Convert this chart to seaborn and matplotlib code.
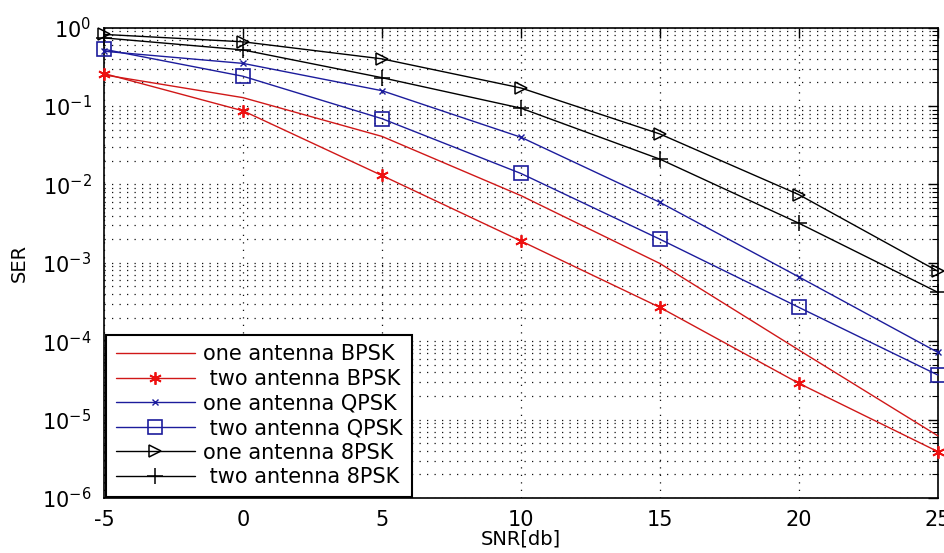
from __future__ import annotations

import matplotlib

matplotlib.use("Agg")
import matplotlib.pyplot as plt
import pandas as pd
import seaborn as sns
from matplotlib.ticker import LogLocator, NullFormatter

SNR_DB = [-5, 0, 5, 10, 15, 20, 25]
ONE_BPSK = [0.25, 0.128, 0.041, 0.0072, 0.00098, 7.7e-5, 6.2e-6]
TWO_BPSK = [0.26, 0.087, 0.013, 0.0019, 0.00027, 2.9e-5, 3.9e-6]
ONE_QPSK = [0.50, 0.35, 0.157, 0.040, 0.0059, 0.00066, 7.2e-5]
TWO_QPSK = [0.53, 0.24, 0.069, 0.0138, 0.0020, 0.00027, 3.7e-5]
ONE_8PSK = [0.82, 0.66, 0.40, 0.17, 0.044, 0.0074, 0.00078]
TWO_8PSK = [0.74, 0.52, 0.23, 0.094, 0.021, 0.0032, 0.00042]

LABELS = [
    "one antenna BPSK", " two antenna BPSK",
    "one antenna QPSK", " two antenna QPSK",
    "one antenna 8PSK", " two antenna 8PSK",
]

RED = "#d01818"
BLUE = "#1c1c9c"
BLACK = "#000000"

STYLES = [
    dict(color=RED, marker=None),
    dict(color=RED, marker=(6, 2, 0), markersize=9, markeredgewidth=1.3,
         markeredgecolor="#ee1111"),
    dict(color=BLUE, marker="x", markersize=5, markeredgewidth=1.0,
         markeredgecolor=BLUE),
    dict(color=BLUE, marker="s", markersize=10, markerfacecolor="none",
         markeredgecolor=BLUE, markeredgewidth=1.2),
    dict(color=BLACK, marker=">", markersize=9, markerfacecolor="none",
         markeredgecolor=BLACK, markeredgewidth=1.1),
    dict(color=BLACK, marker="+", markersize=11, markeredgewidth=1.1,
         markeredgecolor=BLACK),
]


def main() -> None:
    sns.set_style("white")
    plt.rcParams["font.family"] = ["DejaVu Sans"]
    plt.rcParams["axes.unicode_minus"] = False
    plt.rcParams["text.color"] = "black"
    plt.rcParams["axes.labelcolor"] = "black"

    series = [ONE_BPSK, TWO_BPSK, ONE_QPSK, TWO_QPSK, ONE_8PSK, TWO_8PSK]
    df = pd.concat(
        [pd.DataFrame({"snr": SNR_DB, "ser": vals, "curve": lab}) for vals, lab in zip(series, LABELS)],
        ignore_index=True,
    )

    fig = plt.figure(figsize=(9.45, 5.53), dpi=100)
    ax = fig.add_axes([0.110, 0.0995, 0.8825, 0.8505])

    for lab, style in zip(LABELS, STYLES):
        sub = df[df["curve"] == lab]
        sns.lineplot(data=sub, x="snr", y="ser", ax=ax, label=lab, linewidth=1.0,
                     sort=False, clip_on=False, zorder=3, **style)

    ax.set_yscale("log")
    ax.set_xlim(-5, 25)
    ax.set_ylim(1e-6, 1e0)
    ax.set_xticks(SNR_DB)
    ax.yaxis.set_major_locator(LogLocator(base=10, numticks=10))
    ax.yaxis.set_minor_locator(LogLocator(base=10, subs=range(2, 10), numticks=20))
    ax.yaxis.set_minor_formatter(NullFormatter())

    grid_kw = dict(color="#111111", linestyle=(0, (1, 5)), linewidth=0.9)
    ax.grid(True, which="major", axis="both", **grid_kw)
    ax.grid(True, which="minor", axis="y", **grid_kw)
    ax.set_axisbelow(True)

    ax.tick_params(which="both", direction="in", top=True, right=True, colors="black",
                   labelsize=15, pad=9)
    ax.tick_params(which="major", length=7, width=1)
    ax.tick_params(which="minor", length=4, width=0.8)
    for spine in ax.spines.values():
        spine.set_color("black")
        spine.set_linewidth(1.2)

    ax.set_xlabel("SNR[db]", fontsize=14)
    ax.set_ylabel("SER", fontsize=14)
    ax.xaxis.set_label_coords(0.5, -0.088)
    ax.yaxis.set_label_coords(-0.101, 0.5)
    ax.xaxis.label.set_va("center")
    ax.yaxis.label.set_va("center")

    leg = ax.legend(loc="lower left", bbox_to_anchor=(0.003, 0.003), borderaxespad=0,
                    fontsize=15, frameon=True, fancybox=False, framealpha=1,
                    edgecolor="black", handlelength=3.8, handletextpad=0.4,
                    labelspacing=0.22, borderpad=0.45)
    leg.get_frame().set_linewidth(1.5)

    fig.savefig("out.png", dpi=100, facecolor="white")
    plt.close(fig)


if __name__ == "__main__":
    main()
